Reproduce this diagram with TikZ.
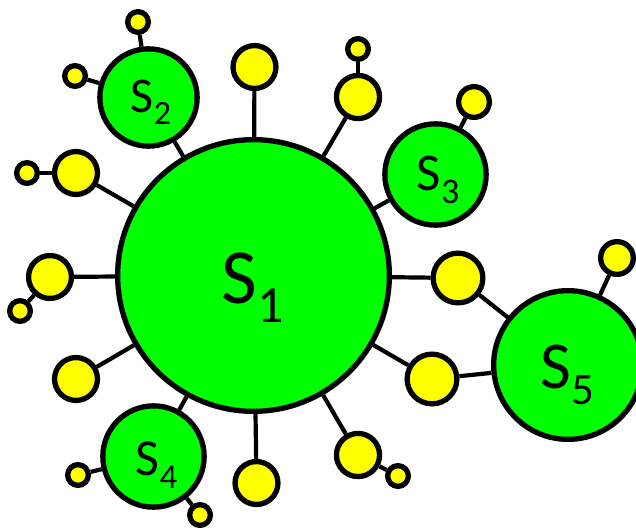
\documentclass[tikz,border=0pt]{standalone}
\usepackage{fontspec}
\setmainfont{Carlito}
\definecolor{sgreen}{RGB}{0,255,0}
\definecolor{syellow}{RGB}{255,255,0}
\newcommand\slab[3]{\fontsize{#1pt}{#1pt}\selectfont S\raisebox{-0.25em}{\fontsize{#2pt}{#2pt}\selectfont #3}}
\begin{document}
\begin{tikzpicture}[x=1pt,y=-1pt,
  circ/.style={circle,draw=black,line width=5.3pt,inner sep=0pt,minimum size=#1},
  gnode/.style={circ=#1,fill=sgreen},
  ynode/.style={circ=#1,fill=syellow},
  lab/.style={anchor=base,inner sep=0pt},
  conn/.style={line width=4.2pt,black}]
\useasboundingbox (0,0) rectangle (636,527);
% green nodes
\node[gnode=271.7pt] (S1) at (253.5,275.5) {};
\node[gnode=97.3pt] (S2) at (148.5,97.5) {};
\node[gnode=101.3pt] (S3) at (435.5,174.5) {};
\node[gnode=101.3pt] (S4) at (153.5,456.5) {};
\node[gnode=148.7pt] (S5) at (568,365) {};
% labels
\node[lab] (L1) at (253,303) {\slab{78}{52}{1}};
\node[lab] (L2) at (151,112) {\slab{50}{34}{2}};
\node[lab] (L3) at (438,190) {\slab{53}{36}{3}};
\node[lab] (L4) at (156.5,475) {\slab{52}{35}{4}};
\node[lab] (L5) at (567.5,388) {\slab{67}{45}{5}};
% yellow medium
\node[ynode=42.9pt] (Yt) at (254.5,67) {};
\node[ynode=43.1pt] (Yur) at (358,97) {};
\node[ynode=42.9pt] (Yul) at (76,173) {};
\node[ynode=42.9pt] (Yl) at (50,277) {};
\node[ynode=42.9pt] (Yll) at (76,379) {};
\node[ynode=42.9pt] (Yb) at (256.5,483) {};
\node[ynode=43.1pt] (Ylr) at (358,455) {};
% yellow big
\node[ynode=49.7pt] (Yr1) at (458,278) {};
\node[ynode=49.7pt] (Yr2) at (432,379) {};
% yellow mid-small
\node[ynode=30.7pt] (m3) at (474,102) {};
\node[ynode=32.7pt] (m5) at (617,258) {};
% yellow small
\node[ynode=20.7pt] (a2t) at (138,22) {};
\node[ynode=20.7pt] (a2l) at (75,76) {};
\node[ynode=20.7pt] (aur) at (358,49) {};
\node[ynode=20.7pt] (aul) at (27,173) {};
\node[ynode=20.7pt] (al) at (20,311) {};
\node[ynode=20.7pt] (a4l) at (78,475) {};
\node[ynode=20.7pt] (a4r) at (200,515) {};
\node[ynode=20.7pt] (alr) at (398,476) {};
% connectors
\draw[conn] (S1) -- (Yt);
\draw[conn] (S1) -- (Yur);
\draw[conn] (S1) -- (S2);
\draw[conn] (S1) -- (Yul);
\draw[conn] (S1) -- (Yl);
\draw[conn] (S1) -- (Yll);
\draw[conn] (S1) -- (S4);
\draw[conn] (S1) -- (Yb);
\draw[conn] (S1) -- (Ylr);
\draw[conn] (S1) -- (Yr1);
\draw[conn] (S1) -- (Yr2);
\draw[conn] (S1) -- (S3);
\draw[conn] (Yr1) -- (S5);
\draw[conn] (Yr2) -- (S5);
\draw[conn] (S2) -- (a2t);
\draw[conn] (S2) -- (a2l);
\draw[conn] (Yur) -- (aur);
\draw[conn] (Yul) -- (aul);
\draw[conn] (Yl) -- (al);
\draw[conn] (S3) -- (m3);
\draw[conn] (S4) -- (a4l);
\draw[conn] (S4) -- (a4r);
\draw[conn] (Ylr) -- (alr);
\draw[conn] (S5) -- (m5);
\end{tikzpicture}
\end{document}
